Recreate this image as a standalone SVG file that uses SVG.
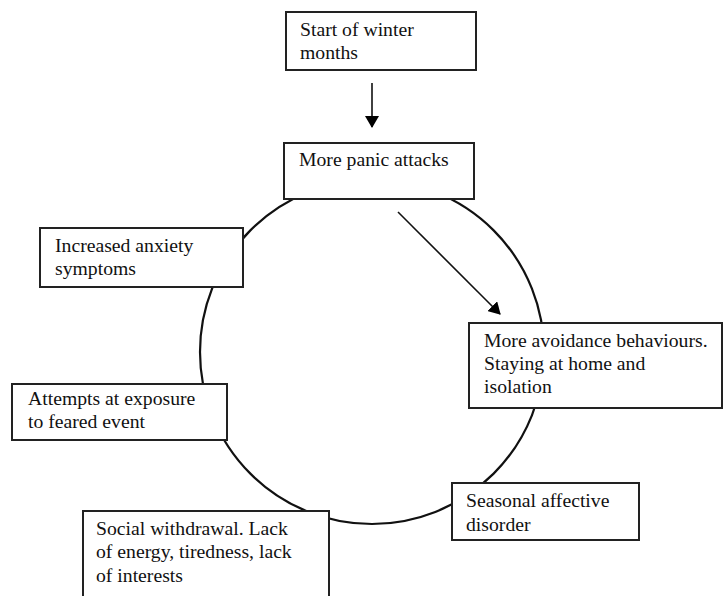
<svg xmlns="http://www.w3.org/2000/svg" width="723" height="596" viewBox="0 0 723 596">
<defs>
<style>
.box{fill:#fff;stroke:#222;stroke-width:2}
.t{font-size:19.7px;fill:#111}
.c{fill:none;stroke:#111;stroke-width:2.2}
.a{stroke:#111;stroke-width:1.6;fill:none}
</style>
<marker id="ah" viewBox="0 0 12 14" refX="11" refY="7" markerWidth="12" markerHeight="14" markerUnits="userSpaceOnUse" orient="auto">
<path d="M0,0 L12,7 L0,14 Z" fill="#000"/>
</marker>
</defs>
<rect width="723" height="596" fill="#fff"/>
<g id="connectors">
<circle class="c" cx="372" cy="352" r="172"/>
<line class="a" x1="372" y1="83" x2="372" y2="127" marker-end="url(#ah)"/>
<line class="a" x1="398" y1="212" x2="500" y2="314" marker-end="url(#ah)"/>
</g>
<g font-family="Liberation Serif, Times New Roman, DejaVu Serif, serif">
<g id="n1"><rect class="box" x="286" y="12" width="190" height="58"/><text class="t" x="300" y="36">Start of winter</text><text class="t" x="300" y="59">months</text></g>
<g id="n2"><rect class="box" x="284" y="143" width="190" height="56"/><text class="t" x="299" y="166">More panic attacks</text></g>
<g id="n3"><rect class="box" x="469" y="323" width="253" height="85"/><text class="t" x="484" y="347">More avoidance behaviours.</text><text class="t" x="484" y="370">Staying at home and</text><text class="t" x="484" y="393">isolation</text></g>
<g id="n4"><rect class="box" x="452" y="483" width="187" height="57"/><text class="t" x="466" y="507">Seasonal affective</text><text class="t" x="466" y="531">disorder</text></g>
<g id="n5"><rect class="box" x="83" y="511" width="246" height="90"/><text class="t" x="96" y="535">Social withdrawal. Lack</text><text class="t" x="96" y="558">of energy, tiredness, lack</text><text class="t" x="96" y="582">of interests</text></g>
<g id="n6"><rect class="box" x="12" y="384" width="215" height="56"/><text class="t" x="28" y="405">Attempts at exposure</text><text class="t" x="28" y="428">to feared event</text></g>
<g id="n7"><rect class="box" x="40" y="228" width="203" height="59"/><text class="t" x="55" y="252">Increased anxiety</text><text class="t" x="55" y="275">symptoms</text></g>
</g>
</svg>
